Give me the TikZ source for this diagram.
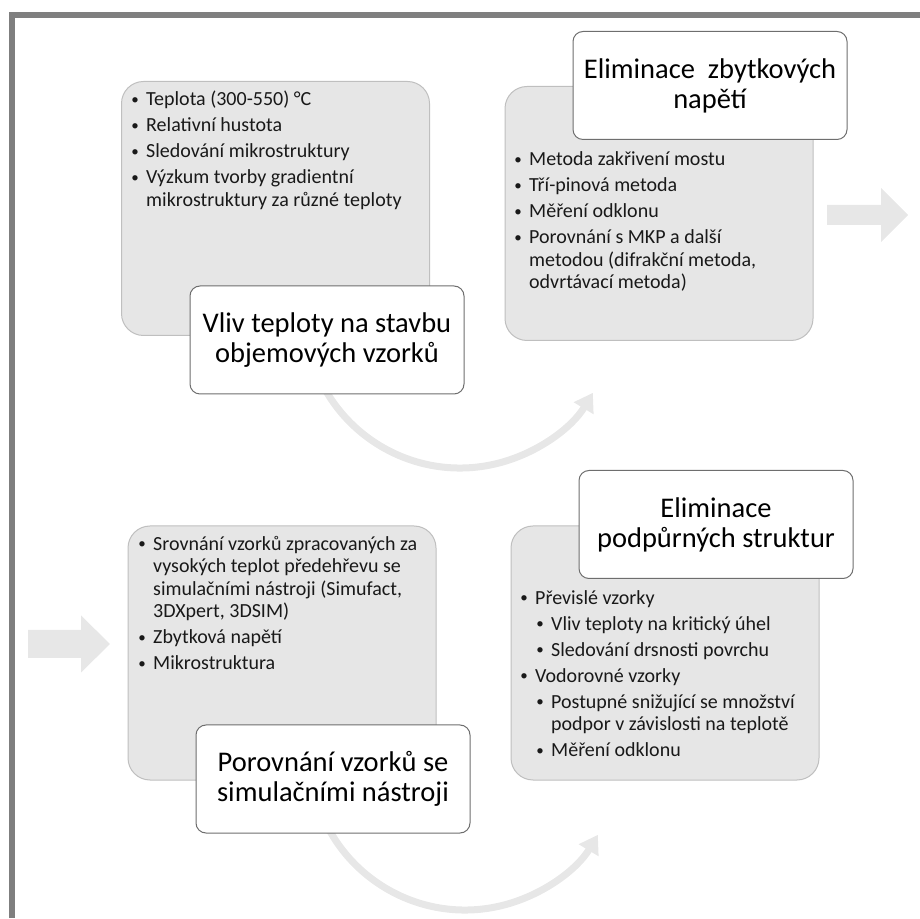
\documentclass[tikz,border=0pt]{standalone}
\usepackage{fontspec}
\setmainfont{Carlito}
\usetikzlibrary{arrows.meta,positioning}
\definecolor{bFrame}{RGB}{127,127,127}
\definecolor{bFill}{RGB}{230,230,230}
\definecolor{bEdge}{RGB}{191,191,191}
\definecolor{bTitle}{RGB}{110,110,110}
\definecolor{bArrow}{RGB}{231,231,231}
\definecolor{bText}{RGB}{25,25,25}
\newcommand{\bul}{\makebox[22pt][c]{\raisebox{1.6pt}{\fontsize{15}{15}\selectfont\textbullet}}}
\newcommand{\ind}{\hspace*{22pt}}
\tikzset{
    cardbox/.style={draw=bEdge, fill=bFill, line width=1pt, rounded corners=22pt, minimum width=308pt, minimum height=254pt, inner sep=0pt},
    titlebox/.style={draw=bTitle, fill=white, line width=1pt, rounded corners=10pt, minimum width=274pt, minimum height=108pt, inner sep=0pt, align=center, font=\fontsize{28.5}{30}\selectfont},
    itemlist/.style={anchor=base west, inner sep=0pt, align=left, text=bText, font=\fontsize{20}{22.5}\selectfont},
    bendarrow/.style={draw=bArrow, line width=7pt, -{Triangle[length=18pt,width=22pt]}}
}

\begin{document}
\begin{tikzpicture}[x=1pt,y=1pt]
\useasboundingbox (0,0) rectangle (920,918);
\draw[line width=6pt,bFrame] (12,0)--(12,903)--(920,903);
% block arrows
\fill[bArrow] (827,693)--(881,693)--(881,676)--(908,703)--(881,730)--(881,713)--(827,713)--cycle;
\fill[bArrow] (28,260)--(81,260)--(81,245.5)--(110,274)--(81,302.5)--(81,288)--(28,288)--cycle;
% curved arrows
\coordinate (arcA) at (460,605);
\coordinate (arcB) at (465,163);
\draw[bendarrow] ([shift={(195:155)}]arcA) arc[start angle=195, end angle=329, radius=155];
\draw[bendarrow] ([shift={(195:155)}]arcB) arc[start angle=195, end angle=329, radius=155];
% cards
\node[cardbox] (vlivCard) at (275.5,709.5) {};
\node[cardbox] (napetiCard) at (659,704.5) {};
\node[cardbox] (simCard) at (282,265) {};
\node[cardbox] (podporyCard) at (665,265) {};
% titles
\node[titlebox] (vlivTitle) at (327,578) {Vliv teploty na stavbu\\objemových vzorků};
\node[titlebox] (napetiTitle) at (710,832.5) {Eliminace\ \ zbytkových\\napětí};
\node[titlebox] (simTitle) at (333,139) {Porovnání vzorků se\\simulačními nástroji};
\node[titlebox] (podporyTitle) at (716,393.5) {Eliminace\\podpůrných struktur};
% bullet lists (base = last line)
\node[itemlist] (vlivList) at (124,711.5) {\bul Teplota (300-550) °C\\[3.5pt]
  \bul Relativní hustota\\[3.5pt]
  \bul Sledování mikrostruktury\\[3.5pt]
  \bul Výzkum tvorby gradientní\\
  \ind mikrostruktury za různé teploty};
\node[itemlist] (napetiList) at (507,629) {\bul Metoda zakřivení mostu\\[3.5pt]
  \bul Tří-pinová metoda\\[3.5pt]
  \bul Měření odklonu\\[3.5pt]
  \bul Porovnání s MKP a další\\
  \ind metodou (difrakční metoda,\\
  \ind odvrtávací metoda)};
\node[itemlist] (simList) at (131,248) {\bul Srovnání vzorků zpracovaných za\\
  \ind vysokých teplot předehřevu se\\
  \ind simulačními nástroji (Simufact,\\
  \ind 3DXpert, 3DSIM)\\[3.5pt]
  \bul Zbytková napětí\\[3.5pt]
  \bul Mikrostruktura};
\node[itemlist] (podporyList) at (513,161) {\bul Převislé vzorky\\[3.5pt]
  \hspace*{16pt}\bul Vliv teploty na kritický úhel\\[3.5pt]
  \hspace*{16pt}\bul Sledování drsnosti povrchu\\[3.5pt]
  \bul Vodorovné vzorky\\[3.5pt]
  \hspace*{16pt}\bul Postupné snižující se množství\\
  \hspace*{38pt}podpor v závislosti na teplotě\\[3.5pt]
  \hspace*{16pt}\bul Měření odklonu};
\end{tikzpicture}
\end{document}
